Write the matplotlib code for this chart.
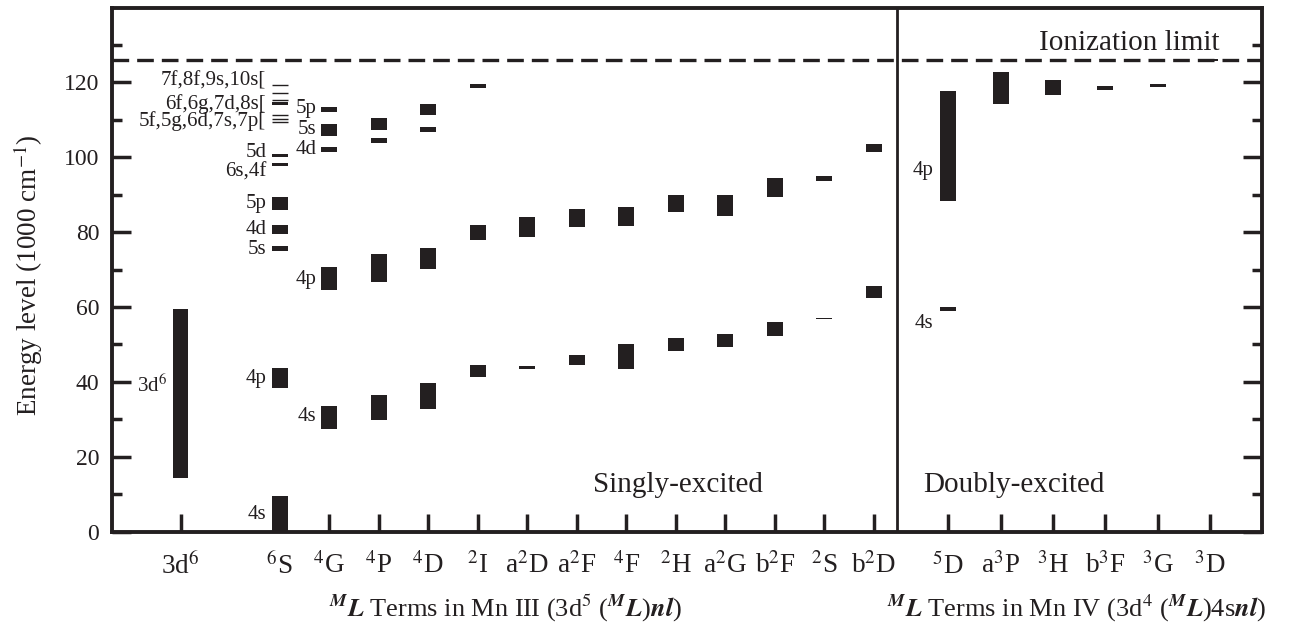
import numpy as np
import matplotlib.pyplot as plt

plt.rcParams['font.family'] = ['Liberation Serif', 'DejaVu Serif']
plt.rcParams['mathtext.fontset'] = 'stix'

ink = '#231f20'

# ground configuration 3d6 (1000 cm^-1)
gs_lo, gs_hi = 14.4, 59.6

# Mn III terms 3d5 (ML) nl
terms_iii = ['$^6$S', '$^4$G', '$^4$P', '$^4$D', '$^2$I', 'a$^2$D', 'a$^2$F',
             '$^4$F', '$^2$H', 'a$^2$G', 'b$^2$F', '$^2$S', 'b$^2$D']
band_4s_lo = [0.0, 27.4, 29.8, 32.7, 41.3, 43.5, 44.5, 43.4, 48.3, 49.3, 52.2, 56.7, 62.4]
band_4s_hi = [9.5, 33.5, 36.5, 39.8, 44.5, 44.2, 47.1, 50.1, 51.7, 52.7, 55.9, 57.2, 65.5]
band_4p_lo = [38.4, 64.5, 66.7, 70.1, 77.8, 78.7, 81.3, 81.6, 85.3, 84.3, 89.3, 93.6, 101.3]
band_4p_hi = [43.6, 70.7, 74.1, 75.8, 81.8, 84.1, 86.1, 86.6, 89.8, 90.0, 94.4, 95.1, 103.6]

# higher levels (index into terms_iii)
upper_idx = [1, 1, 1, 2, 2, 3, 3, 4]
upper_lo = [101.3, 105.8, 112.2, 103.7, 107.4, 106.7, 111.4, 118.4]
upper_hi = [102.7, 108.9, 113.5, 105.1, 110.4, 108.2, 114.2, 119.7]

# 6S series
s6_lo = [74.9, 79.6, 85.8, 97.6, 100.2, 114.0]
s6_hi = [76.3, 82.0, 89.5, 98.5, 100.9, 114.9]
s6_lines = [109.3, 110.3, 111.2, 115.4, 117.1, 119.4]
s6_names = ['4s', '4p', '5s', '4d', '5p', '6s,4f', '5d',
            '5f,5g,6d,7s,7p[', '6f,6g,7d,8s[', '7f,8f,9s,10s[']
s6_name_y = [4.5, 41.0, 75.3, 80.8, 87.6, 96.0, 101.4, 109.6, 114.3, 120.3]

# 4G labels
g4_names = ['4s', '4p', '4d', '5s', '5p']
g4_name_y = [30.7, 67.3, 102.0, 107.5, 113.0]

# Mn IV terms 3d4 (ML) 4s nl
terms_iv = ['$^5$D', 'a$^3$P', '$^3$H', 'b$^3$F', '$^3$G', '$^3$D']
iv_idx = [0, 0, 1, 2, 3, 4, 5]
iv_lo = [58.9, 88.4, 114.1, 116.7, 118.1, 118.8, 125.6]
iv_hi = [59.9, 117.8, 122.7, 120.7, 119.1, 119.7, 126.3]

ion_limit = 126.0

x_gs = -2.0
x_iii = np.arange(len(terms_iii))
x_iv = 13.5 + 1.058 * np.arange(len(terms_iv))
w = 0.32

fig = plt.figure(figsize=(12.99, 6.27), dpi=100)
ax = fig.add_axes([0.086, 0.152, 0.8853, 0.836])

def bars(x, lo, hi):
    lo = np.asarray(lo)
    hi = np.asarray(hi)
    ax.bar(x, hi - lo, bottom=lo, width=w, color=ink, linewidth=0)

bars([x_gs], [gs_lo], [gs_hi])
bars(x_iii, band_4s_lo, band_4s_hi)
bars(x_iii, band_4p_lo, band_4p_hi)
bars(x_iii[upper_idx], upper_lo, upper_hi)
bars(np.full(len(s6_lo), x_iii[0]), s6_lo, s6_hi)
ax.hlines(s6_lines, x_iii[0] - w / 2, x_iii[0] + w / 2, color=ink, lw=1.0)
bars(x_iv[iv_idx], iv_lo, iv_hi)

# ionization limit and separator
ax.axhline(ion_limit, color=ink, lw=2.4, dashes=(5.0, 2.4))
ax.axvline(12.46, color=ink, lw=2.0)

lab = dict(fontsize=15, color=ink, ha='right', va='center')
ax.text(x_gs - 0.27, 38.9, '3d$^6$', **lab)
for name, y in zip(s6_names, s6_name_y):
    ax.text(x_iii[0] - 0.27, y, name, **lab)
for name, y in zip(g4_names, g4_name_y):
    ax.text(x_iii[1] - 0.26, y, name, **lab)
ax.text(x_iv[0] - 0.3, 96.4, '4p', **lab)
ax.text(x_iv[0] - 0.3, 55.6, '4s', **lab)

big = dict(fontsize=21, color=ink, ha='center', va='center')
ax.text(17.16, 130.4, 'Ionization limit', **big)
ax.text(8.04, 12.4, 'Singly-excited', **big)
ax.text(14.82, 12.4, 'Doubly-excited', **big)

ax.set_xlim(-3.39, 19.83)
ax.set_ylim(0, 140)
ax.set_xticks(np.concatenate([[x_gs], x_iii, x_iv]))
ax.set_xticklabels(['3d$^6$'] + terms_iii + terms_iv)
ax.set_yticks(np.arange(0, 121, 20))
ax.set_yticks(np.arange(10, 131, 20), minor=True)
ax.tick_params(axis='y', which='both', direction='in', left=True, right=True,
               width=2.5, color=ink, labelsize=17, pad=9, labelcolor=ink)
ax.tick_params(axis='y', which='major', length=13.5)
ax.tick_params(axis='y', which='minor', length=7)
ax.tick_params(axis='x', direction='in', length=13, width=2.5, color=ink,
               labelsize=19.5, pad=15, labelcolor=ink)
for sp in ax.spines.values():
    sp.set_linewidth(2.8)
    sp.set_color(ink)

ax.set_ylabel('Energy level (1000 cm$^{-1}$)', fontsize=19.5, color=ink)
ax.yaxis.set_label_coords(-0.058, 0.49)

xl = dict(fontsize=19, color=ink, ha='center', va='center',
          transform=ax.get_xaxis_transform())
ax.text(4.57, -0.147, r'$^{\mathbfit{M}}\mathbfit{L}$ Terms in Mn III (3d$^5$ '
        r'($^{\mathbfit{M}}\mathbfit{L}$)$\mathbfit{nl}$)', **xl)
ax.text(16.1, -0.147, r'$^{\mathbfit{M}}\mathbfit{L}$ Terms in Mn IV (3d$^4$ '
        r'($^{\mathbfit{M}}\mathbfit{L}$)4s$\mathbfit{nl}$)', clip_on=False, **xl)

fig.savefig('out.png', dpi=100)
